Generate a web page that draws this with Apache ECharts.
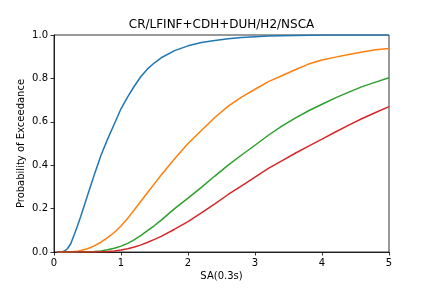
<!DOCTYPE html>
<html>
<head>
<meta charset="utf-8">
<script src="https://cdn.jsdelivr.net/npm/echarts@6/dist/echarts.min.js"></script>
<style>
  html, body { margin: 0; padding: 0; background: #fff; }
  #chart { width: 432px; height: 288px; }
</style>
</head>
<body>
<div id="chart"></div>
<script>
// SA(0.3s) sample points shared by all curves
const SA_VALUES = [0.05, 0.1, 0.15, 0.2, 0.25, 0.3, 0.35, 0.4, 0.5, 0.6, 0.7, 0.8, 0.9, 1.0,
  1.1, 1.2, 1.3, 1.4, 1.5, 1.6, 1.8, 2.0, 2.2, 2.4, 2.6, 2.8, 3.0, 3.2, 3.4, 3.6, 3.8,
  4.0, 4.2, 4.4, 4.6, 4.8, 5.0];

// probability of exceedance
const CURVE_BLUE = [0, 0, 0.003, 0.015, 0.038, 0.078, 0.12, 0.165, 0.26, 0.355, 0.445, 0.52, 0.59, 0.66,
  0.715, 0.765, 0.81, 0.845, 0.872, 0.895, 0.928, 0.95, 0.965, 0.975, 0.983, 0.988, 0.992, 0.995, 0.997, 0.998, 0.999,
  1, 1, 1, 1, 1, 1];
const CURVE_ORANGE = [0, 0, 0, 0, 0.001, 0.002, 0.004, 0.007, 0.015, 0.028, 0.045, 0.066, 0.09, 0.12,
  0.155, 0.195, 0.235, 0.275, 0.315, 0.355, 0.43, 0.5, 0.56, 0.62, 0.672, 0.714, 0.75, 0.785, 0.812, 0.84, 0.866,
  0.885, 0.898, 0.91, 0.922, 0.932, 0.938];
const CURVE_GREEN = [0, 0, 0, 0, 0, 0, 0, 0.001, 0.001, 0.002, 0.005, 0.01, 0.017, 0.027,
  0.04, 0.057, 0.077, 0.1, 0.122, 0.147, 0.2, 0.248, 0.298, 0.35, 0.4, 0.447, 0.492, 0.538, 0.58, 0.617, 0.651,
  0.681, 0.71, 0.737, 0.762, 0.783, 0.803];
const CURVE_RED = [0, 0, 0, 0, 0, 0, 0, 0, 0, 0, 0.001, 0.002, 0.005, 0.009,
  0.015, 0.023, 0.033, 0.045, 0.058, 0.072, 0.105, 0.14, 0.18, 0.222, 0.265, 0.305, 0.345, 0.385, 0.42, 0.455, 0.488,
  0.52, 0.553, 0.585, 0.615, 0.643, 0.67];

const X_TICKS = [0, 1, 2, 3, 4, 5];
const Y_TICKS = [0, 0.2, 0.4, 0.6, 0.8, 1.0];

const chart = echarts.init(document.getElementById('chart'));

const FONT = 'DejaVu Sans';
const pairs = ys => SA_VALUES.map((x, i) => [x, ys[i]]);
const line = (ys, color) => ({
  type: 'line',
  data: pairs(ys),
  showSymbol: false,
  smooth: false,
  lineStyle: { color: color, width: 1.5 },
  itemStyle: { color: color },
  silent: true
});

const axisCommon = {
  axisLine: { show: true, lineStyle: { color: '#000', width: 0.8 } },
  axisTick: { show: true, inside: false, length: 3.5, lineStyle: { color: '#000', width: 0.8 } },
  splitLine: { show: false },
  nameMoveOverlap: false,
  nameTextStyle: { fontFamily: FONT, fontSize: 10, color: '#000' }
};

chart.setOption({
  animation: false,
  title: {
    text: 'CR/LFINF+CDH+DUH/H2/NSCA',
    left: 221.5,
    top: 19,
    padding: 0,
    textAlign: 'center',
    textStyle: { fontFamily: FONT, fontSize: 12, fontWeight: 'normal', color: '#000' }
  },
  grid: {
    left: 54, right: 43, top: 35, bottom: 36,
    show: true, borderColor: '#000', borderWidth: 0.8, backgroundColor: 'transparent'
  },
  xAxis: Object.assign({}, axisCommon, {
    type: 'value',
    min: X_TICKS[0],
    max: X_TICKS[X_TICKS.length - 1],
    interval: 1,
    name: 'SA(0.3s)',
    nameLocation: 'middle',
    nameGap: 19,
    axisLabel: { fontFamily: FONT, fontSize: 10, color: '#000', margin: 6 }
  }),
  yAxis: Object.assign({}, axisCommon, {
    type: 'value',
    min: Y_TICKS[0],
    max: Y_TICKS[Y_TICKS.length - 1],
    interval: 0.2,
    name: 'Probability of Exceedance',
    nameLocation: 'middle',
    nameGap: 28,
    axisLabel: {
      fontFamily: FONT, fontSize: 10, color: '#000', margin: 6,
      formatter: v => v.toFixed(1)
    }
  }),
  series: [
    line(CURVE_BLUE, '#1f77b4'),
    line(CURVE_ORANGE, '#ff7f0e'),
    line(CURVE_GREEN, '#2ca02c'),
    line(CURVE_RED, '#d62728')
  ]
});

window.addEventListener('resize', () => chart.resize());
</script>
</body>
</html>
